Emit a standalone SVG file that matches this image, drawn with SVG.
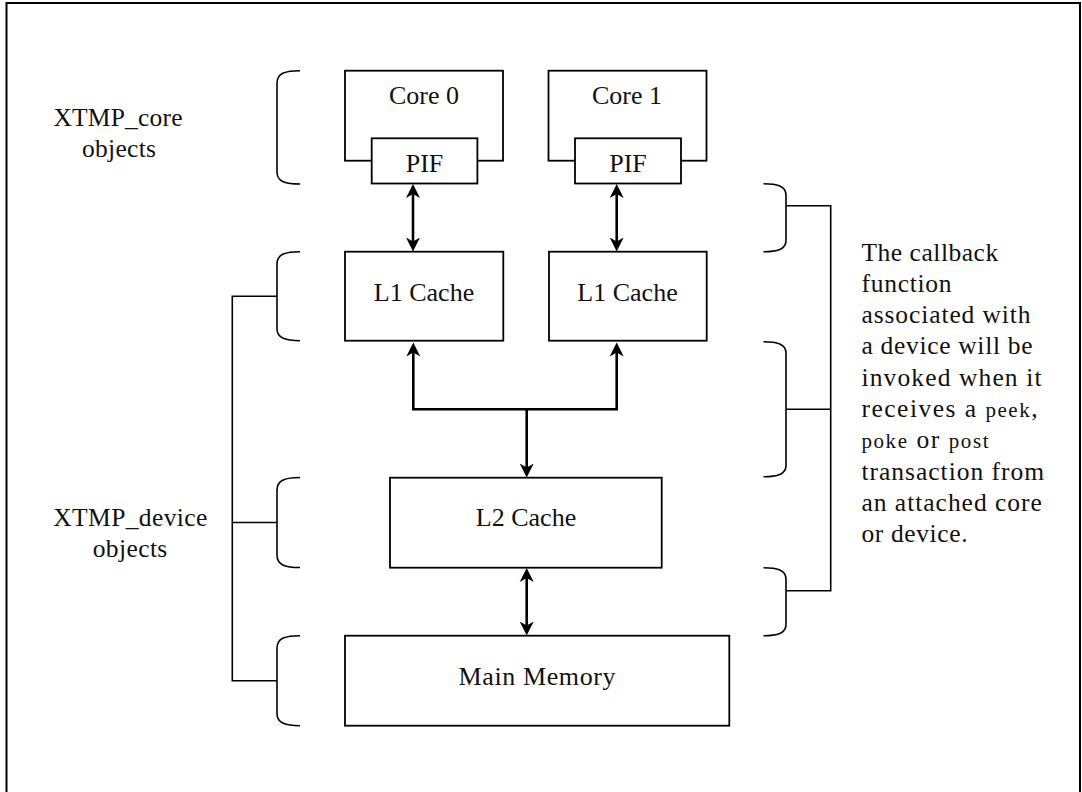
<svg xmlns="http://www.w3.org/2000/svg" width="1082" height="792" viewBox="0 0 1082 792">
  <style>
    .box { fill: #ffffff; stroke: #000000; stroke-width: 1.8; }
    .lbl { font-family: "Liberation Serif", "Times New Roman", serif; font-size: 26px; fill: #111111; text-anchor: middle; }
    .side { font-family: "Liberation Serif", "Times New Roman", serif; font-size: 25.5px; fill: #111111; }
    .small { font-size: 21px; }
    .brace { fill: none; stroke: #000000; stroke-width: 1.6; }
    .tie { fill: none; stroke: #000000; stroke-width: 1.6; }
    .link { fill: none; stroke: #000000; stroke-width: 2.6; }
  </style>
  <defs>
    <marker id="head" markerUnits="userSpaceOnUse" markerWidth="16" markerHeight="16" viewBox="0 -8 16 16" refX="5" refY="0" orient="auto-start-reverse">
      <path d="M14,0 L0,-7 L4,0 L0,7 Z" fill="#000000"/>
    </marker>
  </defs>

  <rect width="1082" height="792" fill="#ffffff"/>
  <!-- page frame (open at the bottom) -->
  <path d="M6.5,800 L6.5,3 L1080,3 L1080,800" fill="none" stroke="#000000" stroke-width="2"/>

  <!-- side labels -->
  <g id="label-core">
    <text class="side" x="118" y="126" text-anchor="middle" textLength="129" lengthAdjust="spacing">XTMP_core</text>
    <text class="side" x="119" y="157" text-anchor="middle" textLength="74" lengthAdjust="spacing">objects</text>
  </g>
  <g id="label-device">
    <text class="side" x="130.3" y="525.7" text-anchor="middle" textLength="154" lengthAdjust="spacing">XTMP_device</text>
    <text class="side" x="130" y="556.7" text-anchor="middle" textLength="74.6" lengthAdjust="spacing">objects</text>
  </g>
  <g id="label-callback">
    <text class="side" x="861.5" y="260.7" textLength="136.7" lengthAdjust="spacing">The callback</text>
    <text class="side" x="861.5" y="291.9" textLength="90" lengthAdjust="spacing">function</text>
    <text class="side" x="861.5" y="323.1" textLength="169" lengthAdjust="spacing">associated with</text>
    <text class="side" x="861.5" y="354.3" textLength="171" lengthAdjust="spacing">a device will be</text>
    <text class="side" x="861.5" y="385.5" textLength="180" lengthAdjust="spacing">invoked when it</text>
    <text class="side" x="861.5" y="416.7" textLength="176" lengthAdjust="spacing">receives a <tspan class="small">peek</tspan>,</text>
    <text class="side" x="861.5" y="447.9" textLength="127" lengthAdjust="spacing"><tspan class="small">poke</tspan> or <tspan class="small">post</tspan></text>
    <text class="side" x="861.5" y="479.5" textLength="182.5" lengthAdjust="spacing">transaction from</text>
    <text class="side" x="861.5" y="511.3" textLength="180.3" lengthAdjust="spacing">an attached core</text>
    <text class="side" x="861.5" y="541.8" textLength="106" lengthAdjust="spacing">or device.</text>
  </g>

  <!-- left grouping braces -->
  <g id="braces-left">
    <path class="brace" d="M300,70.7 C286,70.7 277,73 277,83 L277,172 C277,182 286,184 300,184"/>
    <path class="brace" d="M300,251.7 C286,251.7 277,254 277,264 L277,328.5 C277,338.5 286,340.7 300,340.7"/>
    <path class="brace" d="M300,477.5 C286,477.5 277,480 277,490 L277,555.3 C277,565.3 286,567.5 300,567.5"/>
    <path class="brace" d="M300,635.7 C286,635.7 277,638 277,648 L277,713.5 C277,723.5 286,725.7 300,725.7"/>
    <path class="tie" d="M277,296.2 L232.3,296.2 L232.3,680.7 L277,680.7 M232.3,522.5 L277,522.5"/>
  </g>

  <!-- right grouping braces -->
  <g id="braces-right">
    <path class="brace" d="M763.5,183.7 C777,183.7 786,186 786,195 L786,240.5 C786,249.5 777,251.7 763.5,251.7"/>
    <path class="brace" d="M763.5,341.7 C777,341.7 786,344 786,353 L786,465.5 C786,474.5 777,476.7 763.5,476.7"/>
    <path class="brace" d="M763.5,567.7 C777,567.7 786,570 786,579 L786,624.5 C786,633.5 777,635.7 763.5,635.7"/>
    <path class="tie" d="M786,205.7 L830.7,205.7 L830.7,590.7 L786,590.7 M786,409.3 L830.7,409.3"/>
  </g>

  <!-- connectors -->
  <g id="connectors">
    <line class="link" x1="413" y1="193" x2="413" y2="242.5" marker-start="url(#head)" marker-end="url(#head)"/>
    <line class="link" x1="616.7" y1="193" x2="616.7" y2="242.5" marker-start="url(#head)" marker-end="url(#head)"/>
    <path class="link" d="M413.3,351.5 L413.3,409.3 L616.7,409.3 L616.7,351.5" marker-start="url(#head)" marker-end="url(#head)"/>
    <line class="link" x1="526.7" y1="409.3" x2="526.7" y2="468.5" marker-end="url(#head)"/>
    <line class="link" x1="526.7" y1="577" x2="526.7" y2="626.5" marker-start="url(#head)" marker-end="url(#head)"/>
  </g>

  <!-- cores with their PIF ports -->
  <g id="core0">
    <rect class="box" x="345" y="70.7" width="158" height="90"/>
    <text class="lbl" x="424" y="104">Core 0</text>
  </g>
  <g id="core0-pif">
    <rect class="box" x="371.7" y="138.3" width="105.7" height="45.2"/>
    <text class="lbl" x="424.5" y="172">PIF</text>
  </g>
  <g id="core1">
    <rect class="box" x="548.5" y="70.7" width="158" height="90"/>
    <text class="lbl" x="627" y="104">Core 1</text>
  </g>
  <g id="core1-pif">
    <rect class="box" x="575" y="138.3" width="106" height="45.2"/>
    <text class="lbl" x="628" y="172">PIF</text>
  </g>

  <!-- cache hierarchy -->
  <g id="l1-cache-0">
    <rect class="box" x="345" y="251.7" width="158.3" height="89"/>
    <text class="lbl" x="424" y="300.7">L1 Cache</text>
  </g>
  <g id="l1-cache-1">
    <rect class="box" x="549" y="251.7" width="157.7" height="89"/>
    <text class="lbl" x="627.5" y="300.7">L1 Cache</text>
  </g>
  <g id="l2-cache">
    <rect class="box" x="390" y="477.7" width="271.7" height="90"/>
    <text class="lbl" x="526" y="526">L2 Cache</text>
  </g>
  <g id="main-memory">
    <rect class="box" x="345" y="635.7" width="384.3" height="90"/>
    <text class="lbl" x="537" y="685" textLength="157" lengthAdjust="spacing">Main Memory</text>
  </g>
</svg>
